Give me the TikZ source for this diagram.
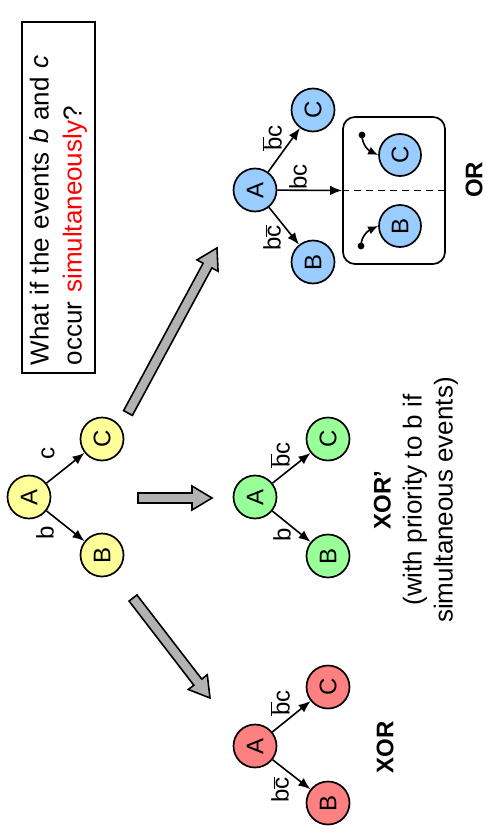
\documentclass[tikz,border=0pt]{standalone}
\usepackage{fontspec}
\usepackage{graphicx}
\setmainfont{Liberation Sans}
\usetikzlibrary{arrows.meta}
\definecolor{cyel}{HTML}{FFFF99}
\definecolor{cgrn}{HTML}{99FF99}
\definecolor{cred}{HTML}{FF8080}
\definecolor{cblu}{HTML}{99CCFF}
\definecolor{cgray}{HTML}{B2B2B2}
\newcommand{\nb}[1]{\ensuremath{\overline{\hbox{#1}}}}
\newcommand{\blockarr}[1]{\draw[blk] (0,-5) -- ({#1-20},-5) -- ({#1-20},-12) -- (#1,0) -- ({#1-20},12) -- ({#1-20},5) -- (0,5) -- cycle;}
\newcommand{\rt}[1]{\rotatebox{90}{#1}}
\begin{document}
\begin{tikzpicture}[x=1pt,y=1pt,
  st/.style={circle, draw, line width=1.7pt, minimum size=43pt, inner sep=0pt, font=\fontsize{24}{24}\selectfont},
  edg/.style={line width=1.6pt, -{Latex[length=12pt,width=9.5pt]}},
  sedg/.style={line width=1.6pt, -{Latex[length=10pt,width=8.5pt]}},
  lbl/.style={rotate=90, inner sep=0pt, font=\fontsize{24}{24}\selectfont},
  blk/.style={draw, line width=1.6pt, fill=cgray, line join=miter},
  ttl/.style={rotate=90, inner sep=0pt, font=\fontsize{24}{24}\selectfont\bfseries},
]
\useasboundingbox (0,0) rectangle (486,-834);

% question box
\node[draw, line width=1.7pt, rotate=90, minimum width=351pt, minimum height=73pt,
      text width=335pt, align=left, inner xsep=8pt, inner ysep=0pt,
      font=\fontsize{26}{33}\selectfont] (q) at (58.5,-197.5)
  {What if the events \textit{b} and \textit{c}\\occur \textcolor{red}{simultaneously}?};

% yellow tree
\node[st, fill=cyel] (ya) at (29,-497) {\rt{A}};
\node[st, fill=cyel] (yc) at (102,-439) {\rt{C}};
\node[st, fill=cyel] (yb) at (102,-555) {\rt{B}};
\draw[edg] (ya) -- (yc);
\draw[edg] (ya) -- (yb);
\node[lbl] (ylc) at (48,-453) {c};
\node[lbl] (ylb) at (45,-533) {b};

% block arrows
\begin{scope}[shift={(128,-413)}, rotate=61.66]
  \blockarr{187.5}
\end{scope}
\begin{scope}[shift={(138,-498)}]
  \blockarr{74}
\end{scope}
\begin{scope}[shift={(133,-598)}, rotate=-52.4]
  \blockarr{126.2}
\end{scope}

% green tree
\node[st, fill=cgrn] (ga) at (255,-497) {\rt{A}};
\node[st, fill=cgrn] (gc) at (328,-439) {\rt{C}};
\node[st, fill=cgrn] (gb) at (328,-556) {\rt{B}};
\draw[edg] (ga) -- (gc);
\draw[edg] (ga) -- (gb);
\node[lbl] (glc) at (280,-455) {\nb{b}c};
\node[lbl] (glb) at (282,-535) {b};
\node[rotate=90, inner sep=0pt, align=center, font=\fontsize{26}{31}\selectfont] (xorp) at (416,-500)
  {{\bfseries\fontsize{24}{31}\selectfont XOR’}\\(with priority to b if\\simultaneous events)};

% red tree
\node[st, fill=cred] (ra) at (255,-746) {\rt{A}};
\node[st, fill=cred] (rc) at (328,-687) {\rt{C}};
\node[st, fill=cred] (rb) at (328,-803) {\rt{B}};
\draw[edg] (ra) -- (rc);
\draw[edg] (ra) -- (rb);
\node[lbl] (rlc) at (280,-703) {\nb{b}c};
\node[lbl] (rlb) at (280,-790) {b\nb{c}};
\node[ttl] (xor) at (385,-747) {XOR};

% blue tree
\node[st, fill=cblu] (ba) at (255,-190) {\rt{A}};
\node[st, fill=cblu] (bc) at (313,-110) {\rt{C}};
\node[st, fill=cblu] (bb) at (313,-262) {\rt{B}};
\draw[edg] (ba) -- (bc);
\draw[edg] (ba) -- (bb);
\node[draw, line width=1.7pt, rounded corners=12pt, minimum width=102pt, minimum height=147pt, inner sep=0pt] (orbox) at (394,-190.5) {};
\draw[line width=1.7pt, dash pattern=on 7pt off 5pt] (orbox.west) -- (orbox.east);
\draw[edg] (ba) -- (orbox.west);
\node[st, fill=cblu, minimum size=42pt] (oc) at (400,-155) {\rt{C}};
\node[st, fill=cblu, minimum size=42pt] (ob) at (400,-226) {\rt{B}};
\coordinate (d1) at (362,-135);
\coordinate (d2) at (361,-246);
\fill (d1) circle (3.4pt);
\fill (d2) circle (3.4pt);
\draw[sedg] (d1) to[out=-90,in=155] (oc.west);
\draw[sedg] (d2) to[out=90,in=205] (ob.west);
\node[lbl] (blc) at (272,-138) {\nb{b}c};
\node[lbl] (blm) at (298,-177) {bc};
\node[lbl] (blb) at (272,-238) {b\nb{c}};
\node[ttl] (or) at (474,-180) {OR};
\end{tikzpicture}
\end{document}
